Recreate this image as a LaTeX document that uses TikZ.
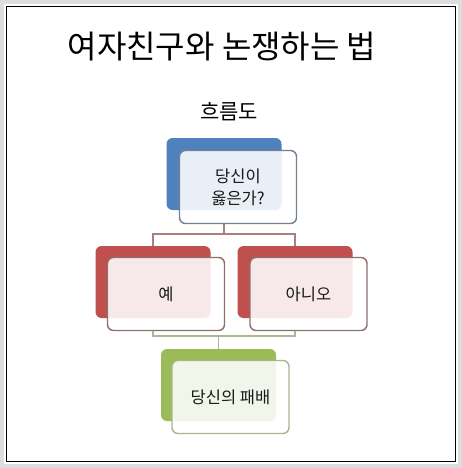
\documentclass[tikz,border=0pt]{standalone}
\usepackage{fontspec}
\newfontfamily\kr{Noto Sans CJK KR}
\definecolor{acBlue}{HTML}{4F81BD}
\definecolor{acRed}{HTML}{C0504D}
\definecolor{acGreen}{HTML}{9BBB59}
\definecolor{bdBlue}{HTML}{72808F}
\definecolor{bdRed}{HTML}{8E7070}
\definecolor{bdGreen}{HTML}{A6B88A}
\definecolor{lnRed}{HTML}{A88080}
\definecolor{lnGreen}{HTML}{AABB92}
\definecolor{frameGray}{HTML}{DDDDDD}
\tikzset{
  backbox/.style={rectangle, rounded corners=6pt, minimum width=115pt, minimum height=72pt, inner sep=0pt, fill=#1},
  frontbox/.style={rectangle, rounded corners=6pt, minimum width=117pt, minimum height=73pt, inner sep=2pt, fill=white, fill opacity=0.88, text opacity=1, draw=#1, line width=1.4pt, font=\kr\fontsize{16.5}{22}\selectfont, align=center, text=black!90},
  connR/.style={draw=lnRed, line width=1.3pt},
  connG/.style={draw=lnGreen, line width=1.3pt}
}
\begin{document}
\begin{tikzpicture}[x=1pt,y=-1pt]
\useasboundingbox (0,0) rectangle (462,468);
\fill[frameGray] (0,0) rectangle (462,468);
\fill[white] (4,4) rectangle (458,464);
\draw[black, line width=1.3pt] (6.5,6.5) rectangle (455.5,461.5);

\node[font=\kr\fontsize{32}{38}\selectfont, text=black] (title) at (222,47) {여자친구와 논쟁하는 법};
\node[font=\kr\fontsize{21}{26}\selectfont, text=black] (sub) at (229,112) {흐름도};

% top
\node[backbox=acBlue] (tB) at (224,174) {};
\node[frontbox=bdBlue] (tF) at (238,187) {당신이\\옳은가?};
% left / right
\node[backbox=acRed] (lB) at (153,282) {};
\node[backbox=acRed] (rB) at (295,282) {};
% connectors top -> middle
\draw[connR] (tB.south |- tF.south) -- (tB.south |- 0,234) coordinate (jt);
\draw[connR] (lB.north) |- (jt) -| (rB.north);
\node[frontbox=bdRed] (lF) at (166,294) {예};
\node[frontbox=bdRed] (rF) at (308.5,294) {아니오};
% bottom
\node[backbox=acGreen] (gB) at (218.5,385) {};
\draw[connG] (lB.south |- lF.south) |- (gB.north |- 0,336) coordinate (jb);
\draw[connG] (rB.south |- rF.south) |- (jb);
\draw[connG] (jb) -- (gB.north);
\node[frontbox=bdGreen] (gF) at (230.5,397) {당신의 패배};
\end{tikzpicture}
\end{document}
